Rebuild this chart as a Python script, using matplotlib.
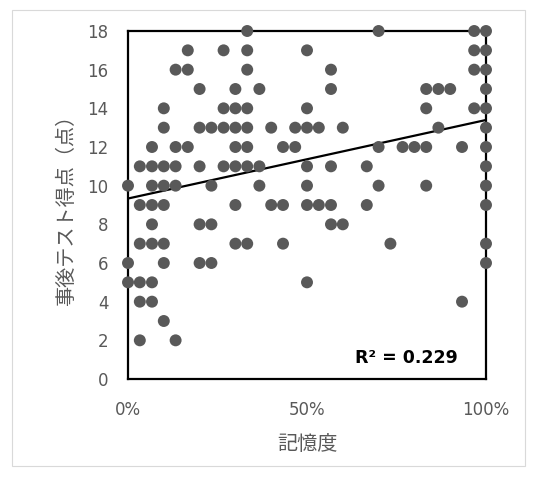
import matplotlib
matplotlib.use("Agg")
import matplotlib.pyplot as plt
from matplotlib.patches import Rectangle
import numpy as np

# Memory (%) for each point, grouped by test score row
score_rows = [18, 17, 16, 15, 14, 13, 12, 11, 10, 9, 8, 7, 6, 5, 4, 3, 2]
memory_by_row = [
    [33.3, 70.0, 96.7, 100.0],
    [16.7, 26.7, 33.3, 50.0, 96.7, 100.0],
    [13.3, 16.7, 33.3, 56.7, 96.7, 100.0],
    [20.0, 30.0, 36.7, 56.7, 83.3, 86.7, 90.0, 100.0],
    [10.0, 26.7, 30.0, 33.3, 50.0, 83.3, 96.7, 100.0],
    [10.0, 20.0, 23.3, 26.7, 30.0, 33.3, 40.0, 46.7, 50.0, 53.3, 60.0, 86.7, 100.0],
    [6.7, 13.3, 16.7, 30.0, 33.3, 43.3, 46.7, 70.0, 76.7, 80.0, 83.3, 93.3, 100.0],
    [3.3, 6.7, 10.0, 13.3, 20.0, 26.7, 30.0, 33.3, 36.7, 50.0, 56.7, 66.7, 100.0],
    [0.0, 6.7, 10.0, 13.3, 23.3, 36.7, 50.0, 70.0, 83.3, 100.0],
    [3.3, 6.7, 10.0, 30.0, 40.0, 43.3, 50.0, 53.3, 56.7, 66.7, 100.0],
    [6.7, 20.0, 23.3, 56.7, 60.0],
    [3.3, 6.7, 10.0, 30.0, 33.3, 43.3, 73.3, 100.0],
    [0.0, 10.0, 20.0, 23.3, 100.0],
    [0.0, 3.3, 6.7, 50.0],
    [3.3, 6.7, 93.3],
    [10.0],
    [3.3, 13.3],
]
x_ticks = [0, 50, 100]
x_tick_labels = ["0%", "50%", "100%"]
y_ticks = list(range(0, 19, 2))
r2_label = "R² = 0.229"
x_label = "記憶度"
y_label = "事後テスト得点（点）"

memory = []
score = []
for s, row in zip(score_rows, memory_by_row):
    for m in row:
        memory.append(m)
        score.append(s)
memory = np.array(memory)
score = np.array(score, dtype=float)

plt.rcParams['font.family'] = ['Noto Sans CJK JP', 'DejaVu Sans']

fig = plt.figure(figsize=(5.35, 4.92), dpi=100)
fig.patch.set_facecolor("white")
fig.add_artist(Rectangle((12/535, 1-466/492), (525-12)/535, (466-10)/492,
                         transform=fig.transFigure, fill=False,
                         edgecolor="#d9d9d9", linewidth=0.8))

ax = fig.add_axes([128/535, 1-379/492, (486-128)/535, (379-31)/492])
ax.set_xlim(0, 100)
ax.set_ylim(0, 18)

ax.scatter(memory, score, s=74, color="#595959", edgecolors="none",
           zorder=5, clip_on=False)

slope, intercept = np.polyfit(memory, score, 1)
xs = np.array([0, 100])
ax.plot(xs, slope * xs + intercept, color="black", linewidth=1.6, zorder=4)

for sp in ax.spines.values():
    sp.set_color("black")
    sp.set_linewidth(1.6)
    sp.set_zorder(3)

ax.set_xticks(x_ticks)
ax.set_xticklabels(x_tick_labels)
ax.set_yticks(y_ticks)
ax.tick_params(length=0, labelsize=12, labelcolor="#595959")
ax.tick_params(axis="x", pad=16)
ax.tick_params(axis="y", pad=14)
for lab in ax.get_xticklabels() + ax.get_yticklabels():
    lab.set_family(["DejaVu Sans"])

ax.set_xlabel(x_label, fontsize=14.5, color="#595959")
ax.set_ylabel(y_label, fontsize=14.5, color="#595959")
ax.xaxis.set_label_coords(0.5, (379 - 434) / 348)
ax.yaxis.set_label_coords((77 - 128) / 358, 0.5)

ax.text(0.92, 0.035, r2_label, transform=ax.transAxes, ha="right", va="bottom",
        fontsize=12.5, fontweight="bold", color="black", family=["DejaVu Sans"])

fig.savefig("out.png", dpi=100)
